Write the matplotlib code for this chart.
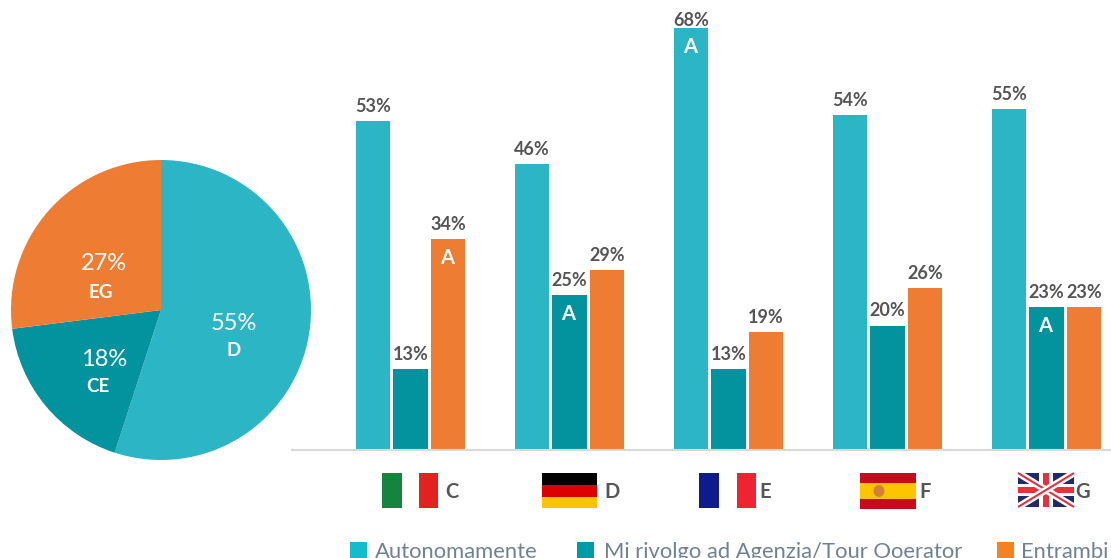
import matplotlib
matplotlib.use('Agg')
import matplotlib.pyplot as plt
from matplotlib.patches import Rectangle, Ellipse

W, H = 1111, 558
FONT = 'Lato'

countries = ['C', 'D', 'E', 'F', 'G']
autonomamente = [53, 46, 68, 54, 55]
agenzia = [13, 25, 13, 20, 23]
entrambi = [34, 29, 19, 26, 23]
# which series carries the "A" marker in each group
a_series = [2, 1, 0, None, 1]

pie_values = [55, 18, 27]
pie_labels = ['D', 'CE', 'EG']

series_names = ['Autonomamente', 'Mi rivolgo ad Agenzia/Tour Ooerator', 'Entrambi']

TEAL = '#2cb5c5'
DARK_TEAL = '#03939e'
ORANGE = '#ee7d33'
LABEL_GREY = '#555555'
LEGEND_GREY = '#6e8295'

plt.rcParams['font.family'] = [FONT, 'DejaVu Sans']
fig = plt.figure(figsize=(W / 100, H / 100), dpi=100)


def axes_px(left, top, right, bottom, **kw):
    return fig.add_axes([left / W, 1 - bottom / H, (right - left) / W, (bottom - top) / H], **kw)


# pie on the left
ax_pie = axes_px(11, 160, 311, 460)
wedges, _ = ax_pie.pie(pie_values, colors=[TEAL, DARK_TEAL, ORANGE], startangle=90,
                       counterclock=False, radius=1)
ax_pie.set_xlim(-1, 1)
ax_pie.set_ylim(-1, 1)

# grouped bars, one group per country
ax = axes_px(292, 0, 1111, 449.5)
step = 37.5 / 159
width = 34.5 / 159
series = [autonomamente, agenzia, entrambi]
colors = [TEAL, DARK_TEAL, ORANGE]
for s, (vals, col) in enumerate(zip(series, colors)):
    xs = [i + (s - 1) * step for i in range(len(vals))]
    ax.bar(xs, vals, width=width, color=col, linewidth=0)
    for x, v in zip(xs, vals):
        # the tallest bar nearly hits the top so its label sits closer
        off = -1 if v == 68 else 6
        ax.annotate(f'{v}%', (x, v), xytext=(0, off), textcoords='offset pixels',
                    ha='center', va='bottom', fontsize=13, color=LABEL_GREY, fontweight='bold')
for i, s in enumerate(a_series):
    if s is not None:
        ax.annotate('A', (i + (s - 1) * step - 0.008, series[s][i]), xytext=(0, -19),
                    textcoords='offset pixels', ha='center', va='center',
                    fontsize=14.5, color='white', fontweight='bold')
ax.set_xlim((292 - 410.5) / 159, (1111 - 410.5) / 159)
ax.set_ylim(0, 449.5 / 6.2)
ax.set_xticks([])
ax.set_yticks([])
for side in ['top', 'left', 'right']:
    ax.spines[side].set_visible(False)
ax.spines['bottom'].set_color('#d9d9d9')
ax.spines['bottom'].set_linewidth(1.5)
ax.patch.set_alpha(0)

# overlay in pixel units for pie text, flags and legend
ov = fig.add_axes([0, 0, 1, 1])
ov.set_xlim(0, W)
ov.set_ylim(H, 0)
ov.axis('off')
ov.patch.set_alpha(0)

pie_text_pos = [(234, 323, 351), (104, 360, 387), (104, 264, 292)]
for (x, y1, y2), v, lab in zip(pie_text_pos, pie_values, pie_labels):
    ov.text(x, y1, f'{v}%', color='white', fontsize=17, ha='center', va='center')
    ov.text(x - (6 if lab == 'CE' else 3 if lab == 'EG' else 0), y2, lab, color='white',
            fontsize=13.5, fontweight='bold', ha='center', va='center')


def rect(x0, y0, x1, y1, col):
    ov.add_patch(Rectangle((x0, y0), x1 - x0, y1 - y0, facecolor=col, edgecolor='none'))


# Italy
rect(382, 473, 402, 508, '#15843c')
rect(419, 473, 438, 508, '#e3211f')
# Germany
rect(542, 473, 597, 485, '#000000')
rect(542, 485, 597, 497, '#dd0000')
rect(542, 497, 597, 508, '#ffc200')
# France
rect(699, 473, 719, 508, '#0f1a8c')
rect(737, 473, 756, 508, '#ef2332')
# Spain
rect(860, 473, 916, 509, '#c60b1e')
rect(860, 483, 916, 499, '#ffc400')
ov.add_patch(Ellipse((879, 491), 11, 12, facecolor='#d5803a', edgecolor='none'))
# UK
uk = Rectangle((1018, 473), 56, 34, facecolor='#1f2a66', edgecolor='none')
ov.add_patch(uk)
for xs, ys in [((1018, 1074), (473, 507)), ((1018, 1074), (507, 473))]:
    ov.plot(xs, ys, color='white', lw=5, solid_capstyle='butt', clip_path=uk)
    ov.plot(xs, ys, color='#e8303a', lw=1.5, solid_capstyle='butt', clip_path=uk)
rect(1039, 473, 1053, 507, 'white')
rect(1018, 484, 1074, 496, 'white')
rect(1043, 473, 1049, 507, '#e8303a')
rect(1018, 487, 1074, 493, '#e8303a')

flag_label_x = [452, 612, 765, 925, 1083]
for x, c in zip(flag_label_x, countries):
    ov.text(x, 492, c, color=LABEL_GREY, fontsize=14.5, fontweight='bold', ha='center', va='center')

# legend runs off the bottom edge
legend_colors = ['#13bccb', '#009ca6', '#f58220']
swatch_x = [350, 577, 997]
text_x = [375, 604, 1021]
for name, col, sx, tx in zip(series_names, legend_colors, swatch_x, text_x):
    rect(sx, 542, sx + 17, 559, col)
    ov.text(tx, 557.5, name, color=LEGEND_GREY, fontsize=15.8, ha='left', va='baseline')

fig.savefig('out.png', dpi=100)
